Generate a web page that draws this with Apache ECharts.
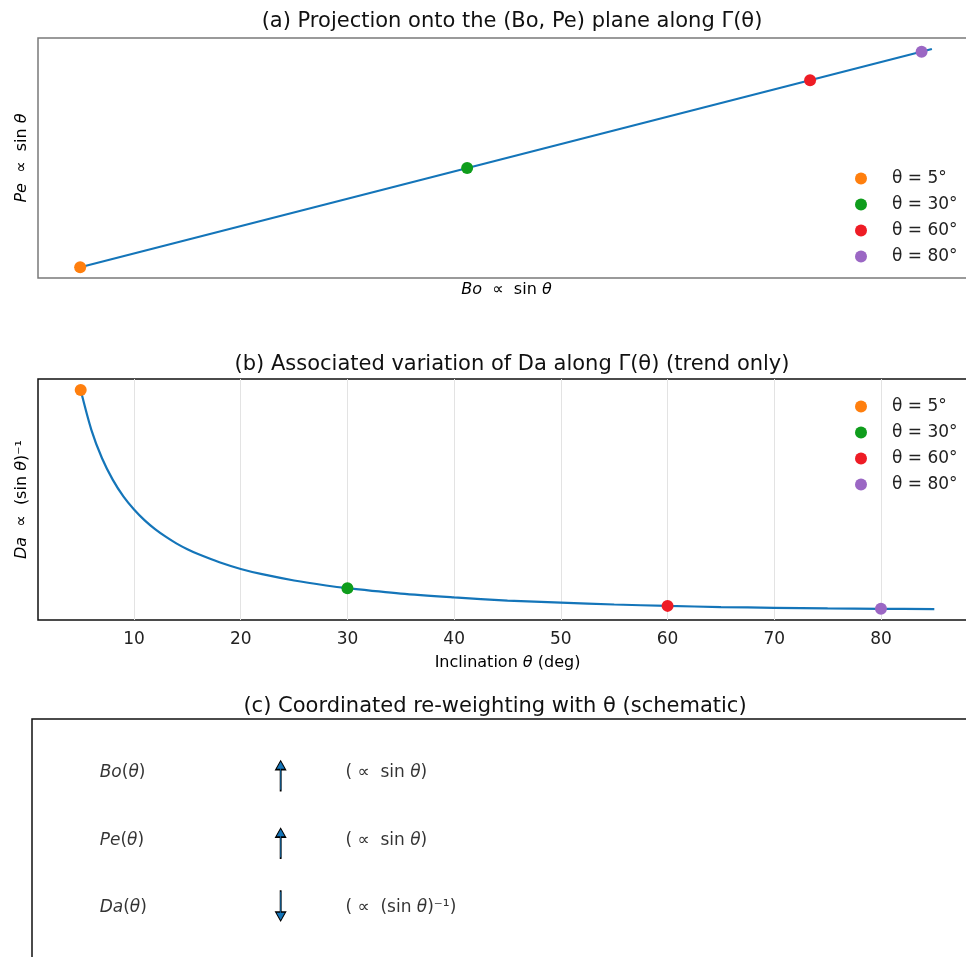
<!DOCTYPE html>
<html>
<head>
<meta charset="utf-8">
<script src="https://cdn.jsdelivr.net/npm/echarts@6/dist/echarts.min.js"></script>
<style>
html, body { margin: 0; padding: 0; background: #fff; }
#chart { width: 966px; height: 957px; }
</style>
</head>
<body>
<div id="chart"></div>
<script>
// marked inclinations
let markLabels = ['θ = 5°', 'θ = 30°', 'θ = 60°', 'θ = 80°'];
let markTheta = [5, 30, 60, 80];
let markSin = [0.087, 0.5, 0.866, 0.985];
let markDa = [11.47, 2.0, 1.155, 1.015];

// (a) straight trace, θ from 5° to 85°
let traceBo = [0.087, 0.996];
let tracePe = [0.087, 0.996];

// (b) Da trend
let curveTheta = [5, 6, 7, 8, 9, 10, 11, 12, 13, 14, 15, 16, 18, 20, 22, 25, 28, 30, 35, 40, 45, 50, 55, 60, 65, 70, 75, 80, 85];
let curveDa = [11.47, 9.57, 8.21, 7.19, 6.39, 5.76, 5.24, 4.81, 4.45, 4.13, 3.86, 3.63, 3.24, 2.92, 2.67, 2.37, 2.13, 2.0, 1.74, 1.56, 1.41, 1.31, 1.22, 1.155, 1.10, 1.064, 1.035, 1.015, 1.004];
let thetaTicks = [10, 20, 30, 40, 50, 60, 70, 80];

// (c) schematic rows
let rowNames = ['Bo', 'Pe', 'Da'];
let rowTrend = ['up', 'up', 'down'];
let rowLaw = ['( ∝  sin {i|θ})', '( ∝  sin {i|θ})', '( ∝  (sin {i|θ})⁻¹)'];

let markColors = ['#ff7f0e', '#0f9d1c', '#ee1c25', '#9b67c4'];
let lineColor = '#1475b9';
let font = 'DejaVu Sans';

// 箭头: 蓝色三角头 + 细杆
let arrowUp = 'path://M5 0 L9 9 L5.5 9 L5.5 30 L4.5 30 L4.5 9 L1 9 Z';
let arrowDown = 'path://M5 30 L9 21 L5.5 21 L5.5 0 L4.5 0 L4.5 21 L1 21 Z';

let italic = size => ({ fontFamily: font, fontStyle: 'italic', fontSize: size, color: '#000' });

let hiddenAxis = {
    axisLine: { show: false },
    axisTick: { show: false },
    axisLabel: { show: false },
    splitLine: { show: false }
};

let series = [];

// (a) trace
series.push({
    type: 'line',
    xAxisIndex: 0,
    yAxisIndex: 0,
    data: traceBo.map((v, i) => [v, tracePe[i]]),
    showSymbol: false,
    lineStyle: { color: lineColor, width: 2.2 },
    z: 2,
    silent: true
});
// (b) curve
series.push({
    type: 'line',
    xAxisIndex: 1,
    yAxisIndex: 1,
    data: curveTheta.map((v, i) => [v, curveDa[i]]),
    showSymbol: false,
    smooth: 0.3,
    lineStyle: { color: lineColor, width: 2.2 },
    z: 2,
    silent: true
});
// marked points in both panels
markLabels.forEach((name, i) => {
    series.push({
        type: 'scatter',
        name: name,
        xAxisIndex: 0,
        yAxisIndex: 0,
        symbolSize: 12,
        itemStyle: { color: markColors[i], opacity: 1 },
        data: [[markSin[i], markSin[i]]],
        z: 5
    });
    series.push({
        type: 'scatter',
        name: name,
        xAxisIndex: 1,
        yAxisIndex: 1,
        symbolSize: 12,
        itemStyle: { color: markColors[i], opacity: 1 },
        data: [[markTheta[i], markDa[i]]],
        z: 5
    });
});

// (c) row labels, arrows, laws
series.push({
    type: 'scatter',
    xAxisIndex: 2,
    yAxisIndex: 2,
    symbolSize: 1,
    itemStyle: { color: 'rgba(0,0,0,0)' },
    label: {
        show: true,
        position: 'right',
        distance: 0,
        fontFamily: font,
        fontSize: 17,
        color: '#000',
        formatter: p => '{i|' + rowNames[p.dataIndex] + '}({i|θ})',
        rich: { i: italic(17) }
    },
    data: rowNames.map((n, i) => [0.07, i + 1])
});
series.push({
    type: 'scatter',
    xAxisIndex: 2,
    yAxisIndex: 2,
    symbolSize: [10, 30],
    itemStyle: { color: lineColor, borderColor: '#000', borderWidth: 1, opacity: 1 },
    data: rowTrend.map((t, i) => ({
        value: [0.259, i + 1 + (t === 'up' ? 0.04 : -0.03)],
        symbol: t === 'up' ? arrowUp : arrowDown
    }))
});
series.push({
    type: 'scatter',
    xAxisIndex: 2,
    yAxisIndex: 2,
    symbolSize: 1,
    itemStyle: { color: 'rgba(0,0,0,0)' },
    label: {
        show: true,
        position: 'right',
        distance: 0,
        fontFamily: font,
        fontSize: 17,
        color: '#000',
        formatter: p => rowLaw[p.dataIndex],
        rich: { i: italic(17) }
    },
    data: rowLaw.map((n, i) => [0.326, i + 1])
});

let legendBase = {
    orient: 'vertical',
    left: 850,
    icon: 'circle',
    itemWidth: 52,
    itemHeight: 12,
    itemGap: 9,
    selectedMode: false,
    textStyle: { fontFamily: font, fontSize: 17, color: '#222', lineHeight: 17 },
    data: markLabels
};

let titleStyle = { fontFamily: font, fontSize: 21, fontWeight: 'normal', color: '#111' };

let option = {
    backgroundColor: '#fff',
    animation: false,
    textStyle: { fontFamily: font },
    title: [
        { text: '(a) Projection onto the (Bo, Pe) plane along Γ(θ)', left: 507, top: 6, textAlign: 'center', textStyle: titleStyle },
        { text: '(b) Associated variation of Da along Γ(θ) (trend only)', left: 507, top: 349, textAlign: 'center', textStyle: titleStyle },
        { text: '(c) Coordinated re-weighting with θ (schematic)', left: 490, top: 691, textAlign: 'center', textStyle: titleStyle }
    ],
    legend: [
        Object.assign({}, legendBase, { top: 165 }),
        Object.assign({}, legendBase, { top: 393 })
    ],
    grid: [
        { left: 38, top: 38, width: 937, height: 240, show: true, borderColor: '#7a7a7a', borderWidth: 1.5, outerBoundsMode: 'none' },
        { left: 38, top: 379, width: 939, height: 241, show: true, borderColor: '#111', borderWidth: 1.5, outerBoundsMode: 'none' },
        { left: 32, top: 719, width: 960, height: 300, show: true, borderColor: '#111', borderWidth: 1.5, outerBoundsMode: 'none' }
    ],
    xAxis: [
        Object.assign({}, hiddenAxis, {
            type: 'value', gridIndex: 0, min: 0.042, max: 1.042,
            name: '{i|Bo}  ∝  sin {i|θ}',
            nameLocation: 'middle',
            nameGap: 4,
            nameTextStyle: { fontFamily: font, fontSize: 16, color: '#000', verticalAlign: 'top', rich: { i: italic(16) } }
        }),
        {
            type: 'value', gridIndex: 1, min: 1, max: 89,
            axisLine: { show: false },
            axisTick: { show: false, customValues: thetaTicks },
            axisLabel: { show: true, customValues: thetaTicks, fontFamily: font, fontSize: 17, color: '#222', margin: 11 },
            splitLine: { show: true, lineStyle: { color: '#e3e3e3', width: 1 } },
            name: 'Inclination {i|θ} (deg)',
            nameLocation: 'middle',
            nameGap: 35,
            nameTextStyle: { fontFamily: font, fontSize: 16, color: '#000', rich: { i: italic(16) } }
        },
        Object.assign({}, hiddenAxis, { type: 'value', gridIndex: 2, min: 0, max: 1 })
    ],
    yAxis: [
        Object.assign({}, hiddenAxis, {
            type: 'value', gridIndex: 0, min: 0.042, max: 1.042,
            name: '{i|Pe}  ∝  sin {i|θ}',
            nameLocation: 'middle',
            nameGap: 8,
            nameTextStyle: { fontFamily: font, fontSize: 16, color: '#000', rich: { i: italic(16) } }
        }),
        Object.assign({}, hiddenAxis, {
            type: 'value', gridIndex: 1, min: 0.48, max: 12.0,
            name: '{i|Da}  ∝  (sin {i|θ})⁻¹',
            nameLocation: 'middle',
            nameGap: 8,
            nameTextStyle: { fontFamily: font, fontSize: 16, color: '#000', rich: { i: italic(16) } }
        }),
        Object.assign({}, hiddenAxis, { type: 'value', gridIndex: 2, min: 0.2, max: 4.644, inverse: true })
    ],
    series: series
};

let myChart = echarts.init(document.getElementById('chart'), null, { renderer: 'canvas' });
myChart.setOption(option);
</script>
</body>
</html>
